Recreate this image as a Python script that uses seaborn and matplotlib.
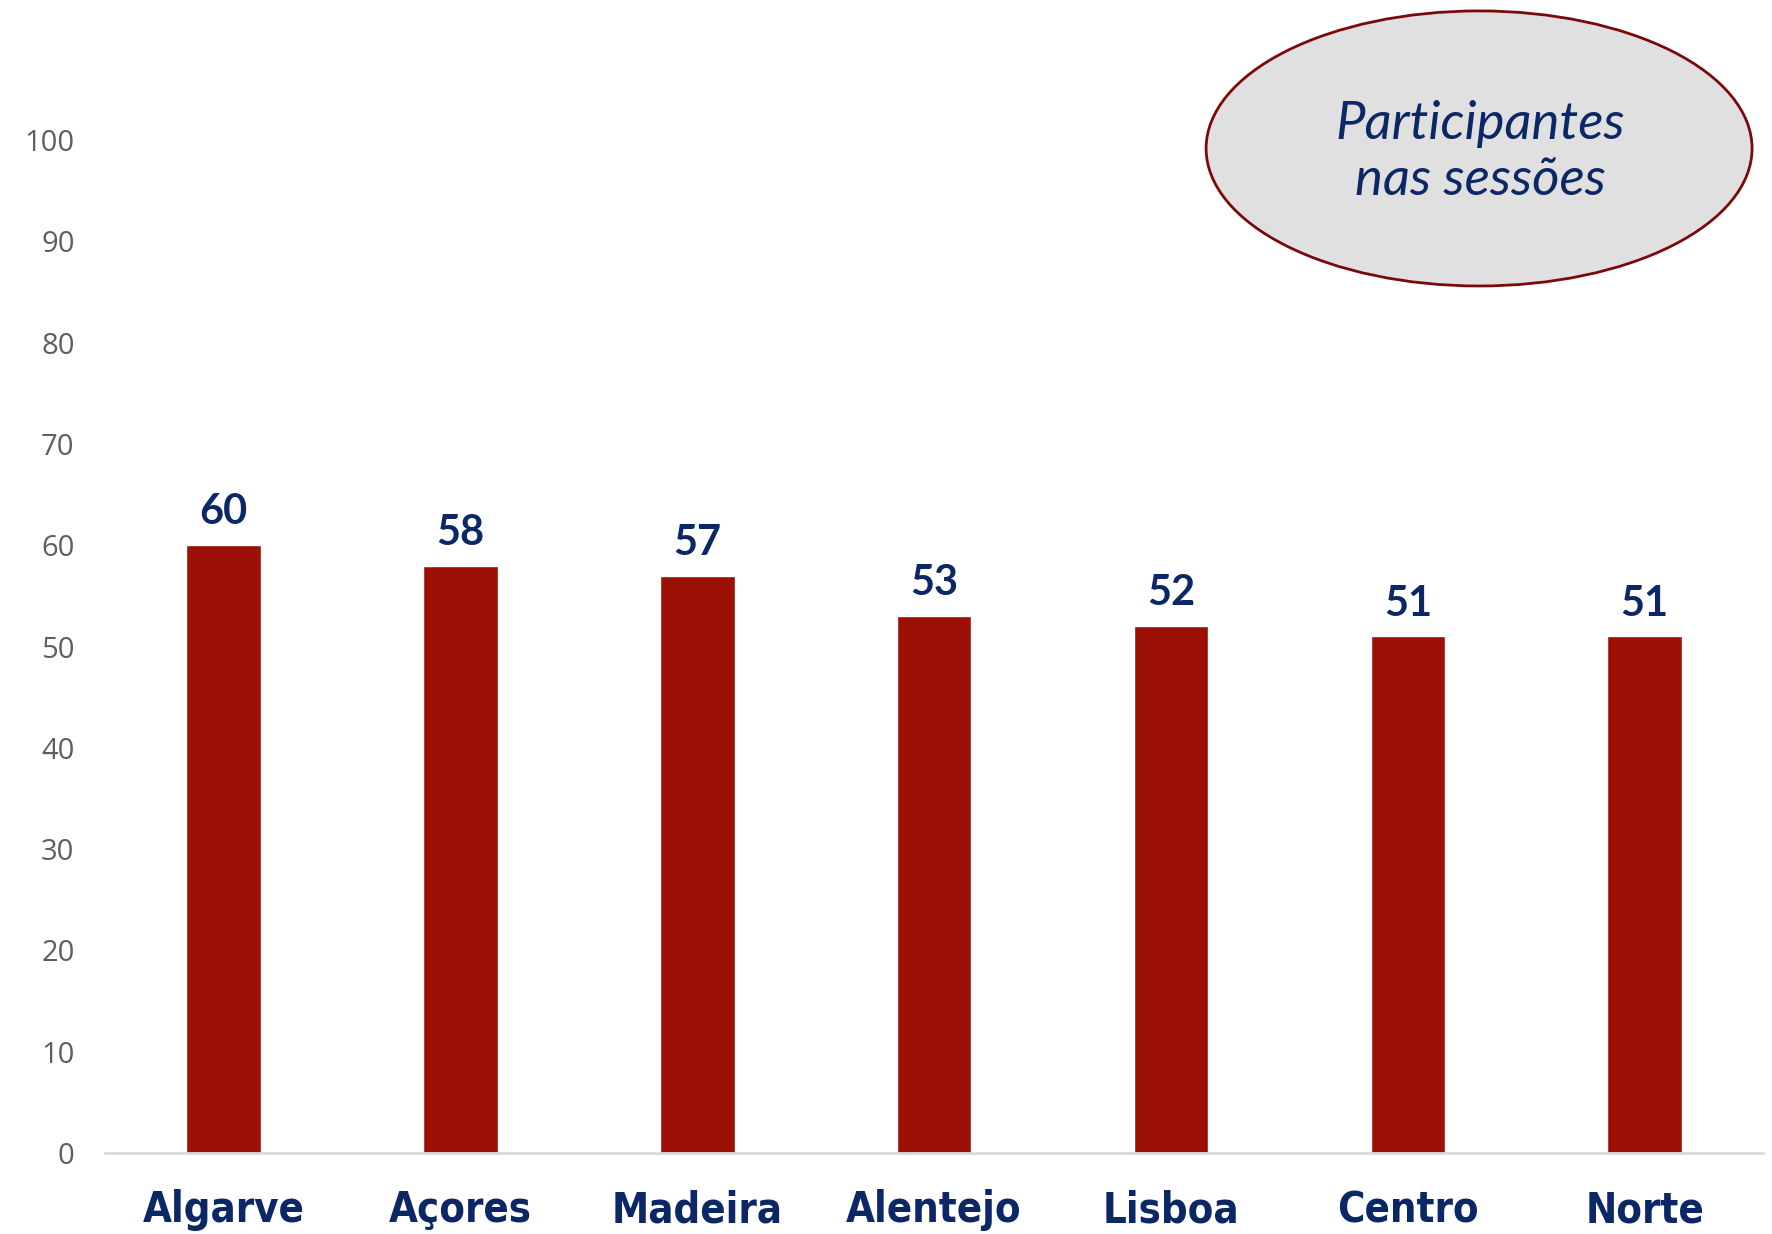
import matplotlib
matplotlib.use("Agg")
import matplotlib.pyplot as plt
import seaborn as sns
import pandas as pd
from matplotlib.patches import Ellipse

# === dati ===================================================================
regioes = ["Algarve", "Açores", "Madeira", "Alentejo", "Lisboa", "Centro", "Norte"]
participantes = [60, 58, 57, 53, 52, 51, 51]
y_ticks = [0, 10, 20, 30, 40, 50, 60, 70, 80, 90, 100]

bar_color = "#9c1006"
navy = "#0c2766"
grey = "#5f5f5f"

df = pd.DataFrame({"regiao": regioes, "participantes": participantes})

sns.set_theme(style="white")
plt.rcParams["font.family"] = ["Lato", "DejaVu Sans"]

fig = plt.figure(figsize=(17.72, 12.34), dpi=100)
ax = fig.add_axes([0.0593, 0.0656, 0.9357, 0.8209])

sns.barplot(data=df, x="regiao", y="participantes", color=bar_color,
            saturation=1, width=0.315, ax=ax)

# etichette valori
for i, v in enumerate(participantes):
    ax.annotate(str(v), (i, v), xytext=(0, 10), textcoords="offset points",
                ha="center", va="bottom", fontsize=30, fontweight="bold",
                color=navy)

ax.set_ylim(0, 100)
ax.set_xlim(-0.5, len(regioes) - 0.5)
ax.set_yticks(y_ticks)
ax.set_yticklabels([str(t) for t in y_ticks], fontsize=21, color=grey,
                   family=["Open Sans", "DejaVu Sans"])
ax.set_xticks(range(len(regioes)))
ax.set_xticklabels(regioes, fontsize=30, color=navy, fontweight="bold",
                   family=["DejaVu Sans"], fontstretch="condensed")
ax.tick_params(axis="y", length=0, pad=22)
ax.tick_params(axis="x", length=0, pad=26)
ax.set_xlabel("")
ax.set_ylabel("")

for s in ["top", "right", "left"]:
    ax.spines[s].set_visible(False)
ax.spines["bottom"].set_color("#d9d9d9")
ax.spines["bottom"].set_linewidth(2)
ax.patch.set_alpha(0)

# ellisse titolo
ell = Ellipse((0.8347, 0.8797), 0.3081, 0.2229, transform=fig.transFigure,
              facecolor="#e0e0e0", edgecolor="#7a0a0a", linewidth=2)
fig.patches.append(ell)
fig.text(0.8352, 0.8765, "Participantes\nnas sessões", ha="center",
         va="center", fontsize=38, style="italic", color=navy,
         linespacing=1.2, family=["Lato", "DejaVu Sans"])

plt.savefig("out.png", dpi=100)
